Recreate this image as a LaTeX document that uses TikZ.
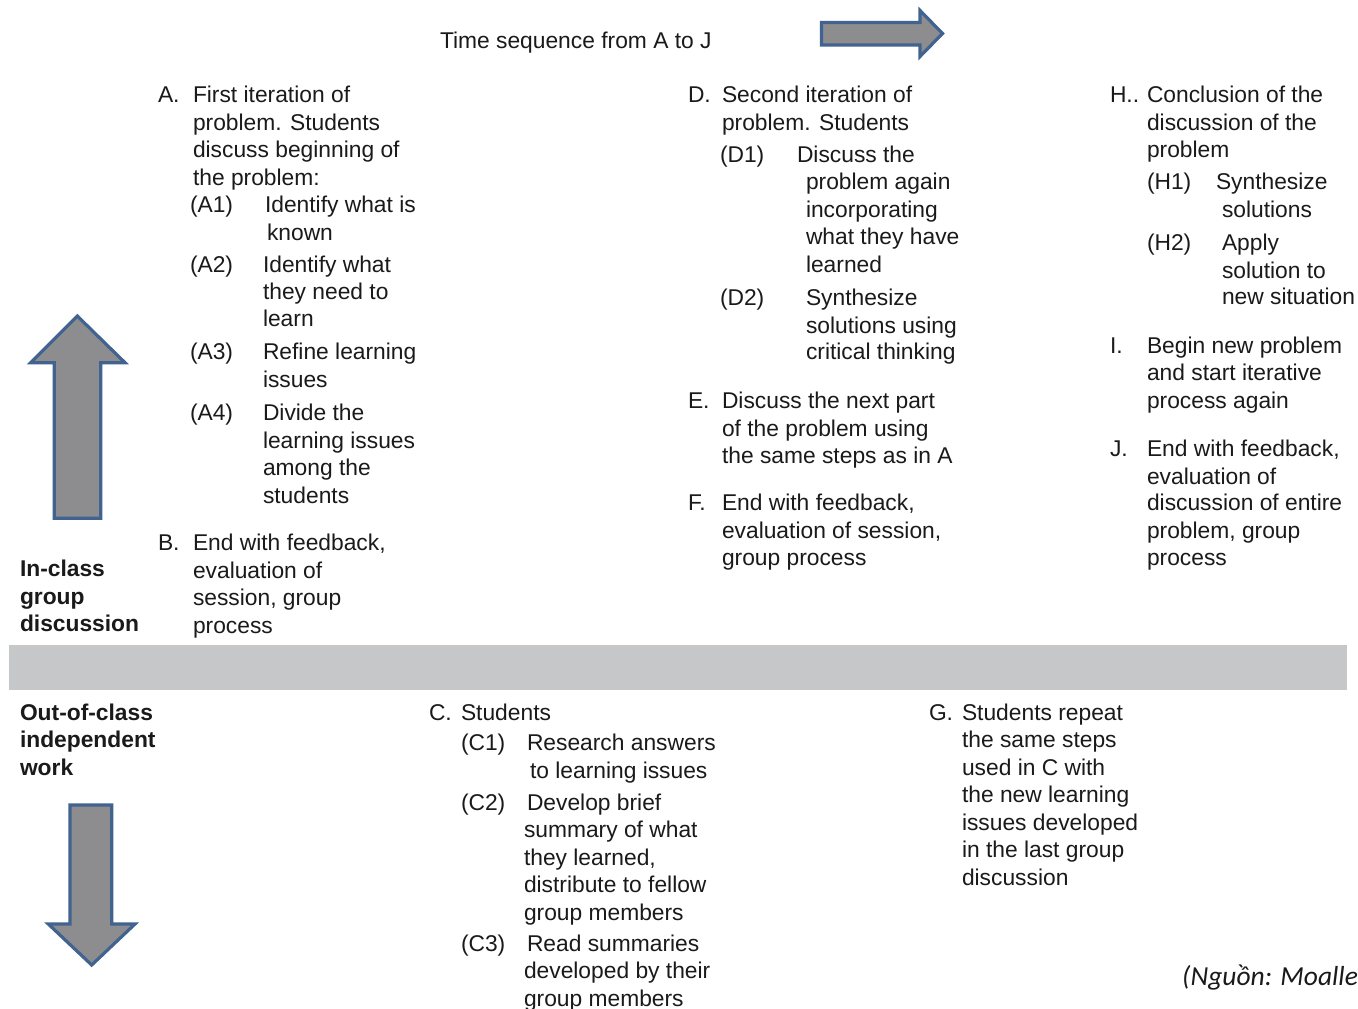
\documentclass[tikz,border=0pt]{standalone}
\usepackage{fontspec}
\setmainfont{Liberation Sans}
\newfontfamily\srcfont{Carlito}
\definecolor{arrowfill}{HTML}{8D8D8F}
\definecolor{arrowline}{HTML}{41638F}
\definecolor{bandgray}{HTML}{C6C7C9}
\definecolor{txtcol}{HTML}{1A1A1A}
\tikzset{
  txt/.style={anchor=base west, inner sep=0pt, outer sep=0pt, text=txtcol,
    font=\fontsize{22.8}{27.5}\selectfont},
  bold/.style={txt, font=\fontsize{22.8}{27.5}\selectfont\bfseries},
  bigarrow/.style={fill=arrowfill, draw=arrowline, line width=3.2pt, line join=miter},
}
\newcommand\tl[4]{\node[txt] (#1) at (#2,#3+8) {#4};}
\newcommand\bl[4]{\node[bold] (#1) at (#2,#3+8) {#4};}
\begin{document}
\begin{tikzpicture}[x=1pt,y=-1pt]
\useasboundingbox (0,0) rectangle (1358,1009);
\fill[white] (0,0) rectangle (1358,1009);

% band
\fill[bandgray] (9,645) rectangle (1347,690);

% arrows
\draw[bigarrow] (821.5,22.5) -- (920,22.5) -- (920,10.5) -- (942.5,33.5) -- (920,56.5) -- (920,45) -- (821.5,45) -- cycle;
\draw[bigarrow] (77.3,316) -- (125,362.7) -- (100.7,362.7) -- (100.7,518.3) -- (54.3,518.3) -- (54.3,362.7) -- (30.7,362.7) -- cycle;
\draw[bigarrow] (70,805) -- (111.7,805) -- (111.7,924) -- (135,924) -- (91.7,965) -- (48.3,924) -- (70,924) -- cycle;

% title
\tl{title}{440}{40}{Time sequence from A to J}

% side labels
\bl{in1}{20}{568}{In-class}
\bl{in2}{20}{596}{group}
\bl{in3}{20}{623}{discussion}
\bl{out1}{20}{712}{Out-of-class}
\bl{out2}{20}{739}{independent}
\bl{out3}{20}{767}{work}

% Block A
\tl{aL}{158}{94}{A.}
\tl{a1}{193}{94}{First iteration of}
\tl{a2}{193}{122}{problem. Students}
\tl{a3}{193}{149}{discuss beginning of}
\tl{a4}{193}{177}{the problem:}
\tl{aoneL}{190}{204}{(A1)}
\tl{aone1}{265}{204}{Identify what is}
\tl{aone2}{267}{232}{known}
\tl{atwoL}{190}{264}{(A2)}
\tl{atwo1}{263}{264}{Identify what}
\tl{atwo2}{263}{291}{they need to}
\tl{atwo3}{263}{318}{learn}
\tl{athreeL}{190}{351}{(A3)}
\tl{athree1}{263}{351}{Refine learning}
\tl{athree2}{263}{379}{issues}
\tl{afourL}{190}{412}{(A4)}
\tl{afour1}{263}{412}{Divide the}
\tl{afour2}{263}{440}{learning issues}
\tl{afour3}{263}{467}{among the}
\tl{afour4}{263}{495}{students}
\tl{bL}{158}{542}{B.}
\tl{b1}{193}{542}{End with feedback,}
\tl{b2}{193}{570}{evaluation of}
\tl{b3}{193}{597}{session, group}
\tl{b4}{193}{625}{process}

% Block D
\tl{dL}{688}{94}{D.}
\tl{d1}{722}{94}{Second iteration of}
\tl{d2}{722}{122}{problem. Students}
\tl{doneL}{720}{154}{(D1)}
\tl{done1}{797}{154}{Discuss the}
\tl{done2}{806}{181}{problem again}
\tl{done3}{806}{209}{incorporating}
\tl{done4}{806}{236}{what they have}
\tl{done5}{806}{264}{learned}
\tl{dtwoL}{720}{297}{(D2)}
\tl{dtwo1}{806}{297}{Synthesize}
\tl{dtwo2}{806}{325}{solutions using}
\tl{dtwo3}{806}{351}{critical thinking}
\tl{eL}{688}{400}{E.}
\tl{e1}{722}{400}{Discuss the next part}
\tl{e2}{722}{428}{of the problem using}
\tl{e3}{722}{455}{the same steps as in A}
\tl{fL}{688}{502}{F.}
\tl{f1}{722}{502}{End with feedback,}
\tl{f2}{722}{530}{evaluation of session,}
\tl{f3}{722}{557}{group process}

% Block H
\tl{hL}{1110}{94}{H..}
\tl{h1}{1147}{94}{Conclusion of the}
\tl{h2}{1147}{122}{discussion of the}
\tl{h3}{1147}{149}{problem}
\tl{honeL}{1147}{181}{(H1)}
\tl{hone1}{1216}{181}{Synthesize}
\tl{hone2}{1222}{209}{solutions}
\tl{htwoL}{1147}{242}{(H2)}
\tl{htwo1}{1222}{242}{Apply}
\tl{htwo2}{1222}{270}{solution to}
\tl{htwo3}{1222}{296}{new situation}
\tl{iL}{1110}{345}{I.}
\tl{i1}{1147}{345}{Begin new problem}
\tl{i2}{1147}{372}{and start iterative}
\tl{i3}{1147}{400}{process again}
\tl{jL}{1110}{448}{J.}
\tl{j1}{1147}{448}{End with feedback,}
\tl{j2}{1147}{476}{evaluation of}
\tl{j3}{1147}{502}{discussion of entire}
\tl{j4}{1147}{530}{problem, group}
\tl{j5}{1147}{557}{process}

% Block C
\tl{cL}{429}{712}{C.}
\tl{c1}{461}{712}{Students}
\tl{coneL}{461}{742}{(C1)}
\tl{cone1}{527}{742}{Research answers}
\tl{cone2}{530}{770}{to learning issues}
\tl{ctwoL}{461}{802}{(C2)}
\tl{ctwo1}{527}{802}{Develop brief}
\tl{ctwo2}{524}{829}{summary of what}
\tl{ctwo3}{524}{857}{they learned,}
\tl{ctwo4}{524}{884}{distribute to fellow}
\tl{ctwo5}{524}{912}{group members}
\tl{cthreeL}{461}{943}{(C3)}
\tl{cthree1}{527}{943}{Read summaries}
\tl{cthree2}{524}{970}{developed by their}
\tl{cthree3}{524}{998}{group members}

% Block G
\tl{gL}{929}{712}{G.}
\tl{g1}{962}{712}{Students repeat}
\tl{g2}{962}{739}{the same steps}
\tl{g3}{962}{767}{used in C with}
\tl{g4}{962}{794}{the new learning}
\tl{g5}{962}{822}{issues developed}
\tl{g6}{962}{849}{in the last group}
\tl{g7}{962}{877}{discussion}

% source
\node[anchor=base west, inner sep=0pt, text=txtcol, font=\srcfont\itshape\fontsize{27.5}{31}\selectfont] (src) at (1182,985) {(Nguồn: Moalle};
\end{tikzpicture}
\end{document}
